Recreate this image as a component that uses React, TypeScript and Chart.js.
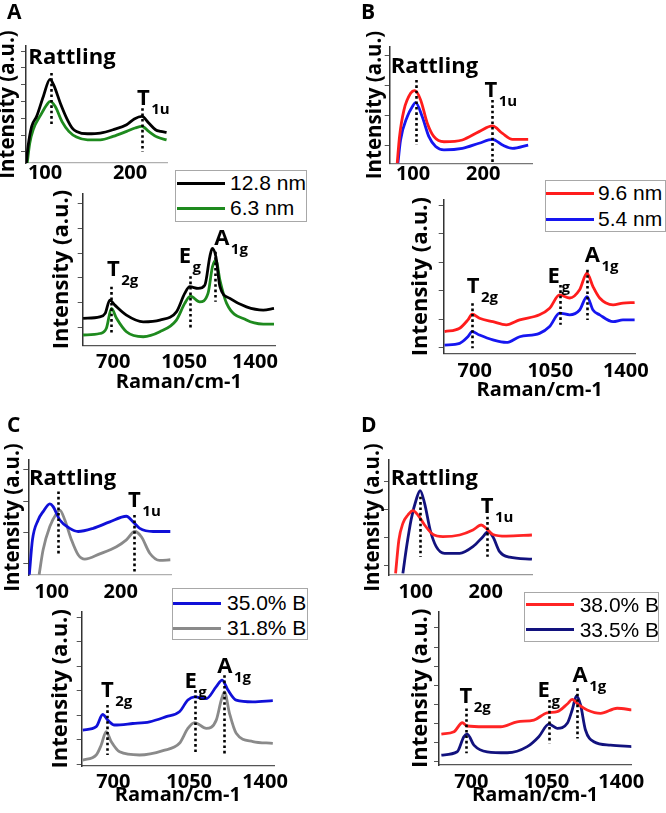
import React, { useEffect, useRef } from "react";
import { Chart, registerables } from "chart.js";

Chart.register(...registerables);

const FONT = "'Open Sans', 'Noto Sans', sans-serif";
const LEGEND_FONT = "'Liberation Sans', Arial, sans-serif";

// ---------- tick labels / titles ----------
const LOW_X_TICKS = [100, 200];
const HIGH_X_TICKS = [700, 1050, 1400];
const X_TITLE = "Raman/cm-1";
const Y_TITLE = "Intensity (a.u.)";
const PANEL_LETTERS = ["A", "B", "C", "D"];

// ---------- Panel A ----------
const A_NAMES = ["12.8 nm", "6.3 nm"];
const A_LOW_X_1 = [78, 80, 84.3, 90, 98, 105.8, 110, 118, 125.5, 132, 137, 150, 165, 180, 196, 205, 214, 222, 230, 236, 243];
const A_LOW_Y_1 = [-0.66, 0.32, 1.52, 2.1, 3.3, 4.31, 4.0, 2.9, 2.0, 1.42, 1.22, 1.08, 1.12, 1.32, 1.62, 1.96, 2.11, 1.72, 1.32, 1.22, 1.16];
const A_LOW_X_2 = [79, 82, 86, 95, 102, 106, 112, 120, 128, 137, 150, 165, 180, 196, 206, 214, 222, 232, 243];
const A_LOW_Y_2 = [-0.66, 0.52, 1.32, 2.2, 2.8, 3.0, 2.7, 1.8, 1.22, 0.88, 0.72, 0.72, 0.92, 1.22, 1.42, 1.52, 1.22, 0.88, 0.72];
const A_HIGH_X_1 = [551, 633, 660, 683, 708, 765, 848, 930, 1012, 1053, 1078, 1119, 1152, 1177, 1189, 1207, 1227, 1276, 1358, 1441, 1494];
const A_HIGH_Y_1 = [0.38, 0.44, 0.58, 1.11, 0.91, 0.51, 0.24, 0.31, 0.64, 1.38, 1.65, 1.58, 1.71, 2.85, 3.19, 2.85, 1.65, 1.18, 0.84, 0.71, 0.78];
const A_HIGH_X_2 = [551, 633, 666, 691, 716, 765, 848, 930, 1012, 1053, 1081, 1127, 1168, 1190, 1207, 1227, 1260, 1358, 1441, 1494];
const A_HIGH_Y_2 = [-0.29, -0.23, -0.02, 0.78, 0.38, -0.16, -0.36, -0.16, 0.31, 0.98, 1.27, 1.04, 1.38, 2.45, 2.72, 1.91, 0.98, 0.31, 0.15, 0.15];

// ---------- Panel B ----------
const B_NAMES = ["9.6 nm", "5.4 nm"];
const B_LOW_X = [77.4, 80.7, 87, 96.5, 102.7, 110.8, 120.3, 129.8, 144.1, 170.3, 194.1, 213.2, 227.5, 241.8, 264.1];
const B_LOW_Y_1 = [-0.59, 0.3, 1.19, 1.75, 1.84, 1.53, 0.75, 0.3, 0.13, 0.19, 0.47, 0.66, 0.41, 0.21, 0.21];
const B_LOW_X_2 = [78.4, 82.2, 91.7, 98.8, 103.6, 113.1, 122.6, 132.2, 144.1, 170.3, 194.1, 213.2, 227.5, 241.8, 264.1];
const B_LOW_Y_2 = [-0.59, 0.19, 0.97, 1.3, 1.44, 0.97, 0.3, -0.03, -0.14, -0.09, 0.08, 0.21, 0.02, -0.09, 0.02];
const B_HIGH_X = [560, 630, 668, 688, 722, 784, 846, 908, 1000, 1047, 1093, 1140, 1186, 1220, 1248, 1279, 1341, 1387, 1441];
const B_HIGH_Y_1 = [0.56, 0.68, 0.97, 1.17, 1.03, 0.91, 0.8, 0.97, 1.15, 1.38, 1.85, 1.74, 2.03, 2.61, 2.14, 1.74, 1.5, 1.56, 1.58];
const B_HIGH_Y_2 = [0.09, 0.15, 0.38, 0.56, 0.44, 0.27, 0.18, 0.38, 0.5, 0.74, 1.21, 1.15, 1.32, 1.79, 1.32, 1.15, 0.91, 0.97, 0.97];

// ---------- Panel C ----------
const C_NAMES = ["35.0% B", "31.8% B"];
const C_LOW_X_1 = [67.5, 72, 80.3, 87.5, 97.2, 102, 111.7, 126.2, 138.3, 160, 184.2, 208.3, 218, 227.7, 247, 272];
const C_LOW_Y_1 = [-0.37, 0.75, 1.39, 1.66, 1.91, 1.82, 1.39, 1.12, 1.02, 1.12, 1.33, 1.51, 1.33, 1.12, 1.02, 1.02];
const C_LOW_X_2 = [81.7, 87.5, 97.2, 106.9, 111.7, 119, 128.6, 138.3, 148, 169.7, 193.9, 208.3, 220.4, 230, 242.2, 256.7, 272];
const C_LOW_Y_2 = [-0.37, 0.43, 1.18, 1.6, 1.71, 1.39, 0.75, 0.27, 0.13, 0.3, 0.53, 0.75, 1.02, 0.85, 0.32, 0.09, 0.11];
const C_HIGH_X_1 = [559, 621, 651, 674, 705, 790, 867, 944, 1005, 1044, 1075, 1129, 1175, 1202, 1229, 1267, 1344, 1436];
const C_HIGH_Y_1 = [1.39, 1.53, 2.03, 1.8, 1.6, 1.66, 1.73, 1.94, 2.14, 2.62, 2.75, 2.68, 3.17, 3.44, 3.03, 2.62, 2.55, 2.6];
const C_HIGH_X_2 = [559, 621, 644, 667, 690, 729, 821, 929, 1005, 1044, 1075, 1129, 1175, 1198, 1213, 1236, 1267, 1344, 1436];
const C_HIGH_Y_2 = [0.16, 0.37, 0.78, 1.33, 0.92, 0.5, 0.37, 0.55, 0.85, 1.46, 1.7, 1.46, 1.8, 2.62, 2.96, 2.08, 1.26, 0.92, 0.85];

// ---------- Panel D ----------
const D_NAMES = ["38.0% B", "33.5% B"];
const D_LOW_X_1 = [71.3, 76, 81.7, 88.9, 96, 103.2, 112.7, 124.6, 138.9, 162.7, 181.7, 193.6, 200.7, 210.2, 229.2, 265.9];
const D_LOW_Y_1 = [-0.3, 0.9, 1.5, 1.8, 1.96, 1.8, 1.44, 1.1, 1.02, 1.08, 1.26, 1.44, 1.32, 1.1, 1.04, 1.08];
const D_LOW_X_2 = [81.7, 87.4, 93.6, 100.7, 106.4, 112.7, 120.7, 129.3, 141.2, 162.7, 181.7, 196, 203.1, 210.2, 219.8, 234, 265.9];
const D_LOW_Y_2 = [-0.3, 0.72, 1.65, 2.35, 2.68, 2.22, 1.26, 0.66, 0.42, 0.42, 0.66, 1.02, 1.2, 1.02, 0.48, 0.28, 0.21];
const D_HIGH_X_1 = [560, 619, 658, 681, 759, 837, 914, 992, 1054, 1101, 1148, 1171, 1202, 1241, 1303, 1381, 1451];
const D_HIGH_Y_1 = [1.45, 1.57, 2.04, 1.87, 1.83, 1.83, 2.09, 2.18, 2.56, 2.62, 3.02, 3.26, 2.97, 2.71, 2.53, 2.8, 2.71];
const D_HIGH_X_2 = [560, 634, 665, 681, 712, 774, 868, 961, 1015, 1062, 1101, 1148, 1171, 1191, 1210, 1233, 1272, 1350, 1451];
const D_HIGH_Y_2 = [0.35, 0.52, 1.31, 1.45, 0.87, 0.52, 0.47, 0.79, 1.31, 1.97, 1.75, 2.01, 2.71, 3.44, 2.97, 1.66, 1.05, 0.87, 0.79];

// ---------- peak markers (x = mode position, y0..y1 = dotted extent) ----------
const A_LOW_MARKS = [[107, 1.5, 4.7], [214, 0, 2.6]];
const A_HIGH_MARKS = [[691, -0.29, 1.65], [1078, -0.02, 2.07], [1202, 1.04, 3.05]];
const B_LOW_MARKS = [[103.6, 0.02, 2.2], [213, -0.59, 1.53]];
const B_HIGH_MARKS = [[688, -0.02, 1.56], [1097, 0.8, 2.2], [1220, 0.97, 2.73]];
const C_LOW_MARKS = [[109, 0.22, 2.31], [220, -0.27, 1.55]];
const C_HIGH_MARKS = [[670, 0.37, 2.42], [1078, 0.44, 3.03], [1210, 0.37, 3.64]];
const D_LOW_MARKS = [[105.5, 0.3, 2.46], [202, 0.3, 1.74]];
const D_HIGH_MARKS = [[676, 0.44, 2.79], [1065, 0.96, 3.23], [1194, 1.22, 3.84]];

// ---------- peak names ----------
const LOW_MODES = [["Rattling", ""], ["T", "1u"]];
const HIGH_MODES = [["T", "2g"], ["E", "g"], ["A", "1g"]];
const A_LOW_LABEL_AT = [[131.7, 5.2], [215.6, 2.82]];
const A_HIGH_LABEL_AT = [[700, 2.07], [1054, 2.59], [1236, 3.32]];
const B_LOW_LABEL_AT = [[130.5, 2.42], [211, 1.64]];
const B_HIGH_LABEL_AT = [[692, 1.9], [1066, 2.26], [1245, 3.02]];
const C_LOW_LABEL_AT = [[130.3, 2.52], [220, 1.82]];
const C_HIGH_LABEL_AT = [[672, 2.76], [1057, 3.1], [1215, 3.72]];
const D_LOW_LABEL_AT = [[126.6, 2.88], [202, 1.86]];
const D_HIGH_LABEL_AT = [[674, 3.05], [1038, 3.4], [1208, 4.19]];

const range = (n: number) => Array.from({ length: n + 1 }, (_, i) => i);

type Series = { x: number[]; y: number[]; color: string };
type Spec = {
  area: [number, number, number, number];
  xRange: [number, number];
  yRange: [number, number];
  xTicks: number[];
  yTicks: number[];
  series: Series[];
  marks: number[][];
  modes: string[][];
  labelAt: number[][];
  yTitleX: number;
  yTitleSize: number;
  xTitleY?: number;
  tickPad: number;
  xAxisColor: string;
};

const COLORS = {
  black: "#000000",
  green: "#1e8a1e",
  red: "#ff1c1c",
  blue: "#1616f0",
  cblue: "#1010d8",
  gray: "#8a8a8a",
  dred: "#ff2424",
  navy: "#12127e",
};

const SPECS: Spec[] = [
  {
    area: [26, 46, 167, 163], xRange: [77.6, 243.5], yRange: [-0.66, 6.3],
    xTicks: LOW_X_TICKS, yTicks: range(6),
    series: [
      { x: A_LOW_X_1, y: A_LOW_Y_1, color: COLORS.black },
      { x: A_LOW_X_2, y: A_LOW_Y_2, color: COLORS.green },
    ],
    marks: A_LOW_MARKS, modes: LOW_MODES, labelAt: A_LOW_LABEL_AT,
    yTitleX: 11, yTitleSize: 20.5, tickPad: -1.5, xAxisColor: "#b0b0b0",
  },
  {
    area: [82.7, 193.3, 275, 345.7], xRange: [549, 1499], yRange: [-0.72, 5.4],
    xTicks: HIGH_X_TICKS, yTicks: range(5),
    series: [
      { x: A_HIGH_X_1, y: A_HIGH_Y_1, color: COLORS.black },
      { x: A_HIGH_X_2, y: A_HIGH_Y_2, color: COLORS.green },
    ],
    marks: A_HIGH_MARKS, modes: HIGH_MODES, labelAt: A_HIGH_LABEL_AT,
    yTitleX: 65, yTitleSize: 22, xTitleY: 383, tickPad: 5, xAxisColor: "#555",
  },
  {
    area: [389.7, 46.7, 532.3, 163.3], xRange: [66.7, 270], yRange: [-0.59, 3.31],
    xTicks: LOW_X_TICKS, yTicks: range(3),
    series: [
      { x: B_LOW_X, y: B_LOW_Y_1, color: COLORS.red },
      { x: B_LOW_X_2, y: B_LOW_Y_2, color: COLORS.blue },
    ],
    marks: B_LOW_MARKS, modes: LOW_MODES, labelAt: B_LOW_LABEL_AT,
    yTitleX: 378, yTitleSize: 20.5, tickPad: -0.8, xAxisColor: "#777",
  },
  {
    area: [443.7, 200, 635.7, 353.3], xRange: [556, 1446], yRange: [-0.2, 5.18],
    xTicks: HIGH_X_TICKS, yTicks: range(5),
    series: [
      { x: B_HIGH_X, y: B_HIGH_Y_1, color: COLORS.red },
      { x: B_HIGH_X, y: B_HIGH_Y_2, color: COLORS.blue },
    ],
    marks: B_HIGH_MARKS, modes: HIGH_MODES, labelAt: B_HIGH_LABEL_AT,
    yTitleX: 424, yTitleSize: 22, xTitleY: 391.7, tickPad: 6.2, xAxisColor: "#555",
  },
  {
    area: [28.3, 460, 171, 575], xRange: [66, 273], yRange: [-0.38, 3.32],
    xTicks: LOW_X_TICKS, yTicks: range(3),
    series: [
      { x: C_LOW_X_1, y: C_LOW_Y_1, color: COLORS.cblue },
      { x: C_LOW_X_2, y: C_LOW_Y_2, color: COLORS.gray },
    ],
    marks: C_LOW_MARKS, modes: LOW_MODES, labelAt: C_LOW_LABEL_AT,
    yTitleX: 16, yTitleSize: 20.5, tickPad: 5, xAxisColor: "#b0b0b0",
  },
  {
    area: [81.7, 611.7, 274, 766], xRange: [554, 1441.5], yRange: [-0.08, 6.24],
    xTicks: HIGH_X_TICKS, yTicks: range(6),
    series: [
      { x: C_HIGH_X_1, y: C_HIGH_Y_1, color: COLORS.cblue },
      { x: C_HIGH_X_2, y: C_HIGH_Y_2, color: COLORS.gray },
    ],
    marks: C_HIGH_MARKS, modes: HIGH_MODES, labelAt: C_HIGH_LABEL_AT,
    yTitleX: 64, yTitleSize: 22, xTitleY: 796, tickPad: 4.5, xAxisColor: "#555",
  },
  {
    area: [389, 460, 532, 575], xRange: [61.9, 266], yRange: [-0.36, 3.78],
    xTicks: LOW_X_TICKS, yTicks: range(3),
    series: [
      { x: D_LOW_X_1, y: D_LOW_Y_1, color: COLORS.dred },
      { x: D_LOW_X_2, y: D_LOW_Y_2, color: COLORS.navy },
    ],
    marks: D_LOW_MARKS, modes: LOW_MODES, labelAt: D_LOW_LABEL_AT,
    yTitleX: 376, yTitleSize: 20.5, tickPad: 5.5, xAxisColor: "#999",
  },
  {
    area: [439, 611.7, 631.3, 765], xRange: [549, 1447], yRange: [-0.17, 7.85],
    xTicks: HIGH_X_TICKS, yTicks: range(7),
    series: [
      { x: D_HIGH_X_1, y: D_HIGH_Y_1, color: COLORS.dred },
      { x: D_HIGH_X_2, y: D_HIGH_Y_2, color: COLORS.navy },
    ],
    marks: D_HIGH_MARKS, modes: HIGH_MODES, labelAt: D_HIGH_LABEL_AT,
    yTitleX: 424, yTitleSize: 22, xTitleY: 796.7, tickPad: 5.5, xAxisColor: "#555",
  },
];

const LEGENDS = [
  { box: [175, 170, 132, 52], rows: [183, 208], lineX: 177, textX: 230, names: A_NAMES, colors: [COLORS.black, COLORS.green] },
  { box: [544.7, 180, 121, 51.7], rows: [193, 219], lineX: 546, textX: 598, names: B_NAMES, colors: [COLORS.red, COLORS.blue] },
  { box: [171.7, 588.3, 136.6, 51.7], rows: [603.3, 628.3], lineX: 173, textX: 227, names: C_NAMES, colors: [COLORS.cblue, COLORS.gray] },
  { box: [523.7, 591.7, 135.3, 50], rows: [605, 630], lineX: 525.7, textX: 579.7, names: D_NAMES, colors: [COLORS.dred, COLORS.navy] },
];

const LETTER_POS = [[7, 1], [361, 1], [7, 414], [361, 414]];

// ink of the titles sits slightly off their 'middle'-aligned line-box centre
const Y_INK_SHIFT = 3;
const X_INK_SHIFT = 1;

function Plot({ spec }: { spec: Spec }) {
  const ref = useRef<HTMLCanvasElement>(null);
  const [aL, aT, aR, aB] = spec.area;
  const yLH = spec.yTitleSize * 1.2;
  const xLH = 24;
  const yTitleCenter = spec.yTitleX - Y_INK_SHIFT;
  const cLeft = Math.floor(yTitleCenter - yLH / 2 - 2);
  const cTop = Math.floor(aT - 30);
  const cRight = Math.ceil(aR + 40);
  const xTitleCenter = spec.xTitleY != null ? spec.xTitleY - X_INK_SHIFT : 0;
  const cBottom = spec.xTitleY != null ? Math.ceil(xTitleCenter + xLH / 2 + 2) : Math.ceil(aB + 34);
  const W = cRight - cLeft;
  const H = cBottom - cTop;

  useEffect(() => {
    const canvas = ref.current;
    if (!canvas) return;
    const marksPlugin = {
      id: "peakMarks",
      afterDatasetsDraw(chart: any) {
        const { ctx, scales } = chart;
        const xs = scales.x;
        const ys = scales.y;
        ctx.save();
        ctx.strokeStyle = "#000";
        ctx.lineWidth = 2.6;
        ctx.setLineDash([2.6, 2.8]);
        ctx.lineCap = "butt";
        for (const m of spec.marks) {
          const px = Math.round(xs.getPixelForValue(m[0])) + 0.5;
          ctx.beginPath();
          ctx.moveTo(px, ys.getPixelForValue(m[2]));
          ctx.lineTo(px, ys.getPixelForValue(m[1]));
          ctx.stroke();
        }
        ctx.setLineDash([]);
        ctx.fillStyle = "#000";
        ctx.textBaseline = "alphabetic";
        ctx.textAlign = "left";
        spec.modes.forEach((md, i) => {
          const at = spec.labelAt[i];
          const px = xs.getPixelForValue(at[0]);
          const py = ys.getPixelForValue(at[1]);
          ctx.font = `bold 22px ${FONT}`;
          const w = ctx.measureText(md[0]).width;
          ctx.fillText(md[0], px - w / 2, py);
          if (md[1]) {
            ctx.font = `bold 15px ${FONT}`;
            ctx.fillText(md[1], px + w / 2 + 1.5, py + 9);
          }
        });
        ctx.restore();
      },
    };

    const chart = new Chart(canvas, {
      type: "line",
      data: {
        datasets: spec.series.map((s) => ({
          data: s.x.map((x, i) => ({ x, y: s.y[i] })),
          borderColor: s.color,
          backgroundColor: s.color,
          borderWidth: 2.8,
          pointRadius: 0,
          cubicInterpolationMode: "monotone" as const,
          fill: false,
        })),
      },
      options: {
        animation: false,
        responsive: false,
        maintainAspectRatio: false,
        events: [],
        layout: { padding: { left: 0, top: aT - cTop, right: cRight - aR, bottom: 0 } },
        plugins: { legend: { display: false }, tooltip: { enabled: false } },
        scales: {
          x: {
            type: "linear",
            min: spec.xRange[0],
            max: spec.xRange[1],
            afterBuildTicks: (sc: any) => {
              sc.ticks = spec.xTicks.map((v) => ({ value: v }));
            },
            afterFit: (sc: any) => {
              sc.height = cBottom - aB;
            },
            grid: { display: false, drawTicks: false, tickLength: 0 },
            border: { display: true, color: spec.xAxisColor, width: 1.2 },
            ticks: {
              padding: spec.tickPad,
              color: "#000",
              maxRotation: 0,
              minRotation: 0,
              autoSkip: false,
              callback: (v: any) => String(v),
              font: { family: FONT, size: 20, weight: "bold" },
            },
            title: {
              display: spec.xTitleY != null,
              text: X_TITLE,
              color: "#000",
              font: { family: FONT, size: 20, weight: "bold" },
              padding: { top: 0, bottom: spec.xTitleY != null ? cBottom - xTitleCenter - xLH / 2 : 0 },
            },
          },
          y: {
            type: "linear",
            min: spec.yRange[0],
            max: spec.yRange[1],
            afterBuildTicks: (sc: any) => {
              sc.ticks = spec.yTicks.map((v) => ({ value: v }));
            },
            afterFit: (sc: any) => {
              sc.width = aL - cLeft;
            },
            grid: { drawOnChartArea: false, drawTicks: true, tickLength: 5, color: "#555", lineWidth: 1 },
            border: { display: true, color: "#333", width: 1.5 },
            ticks: { display: false },
            title: {
              display: true,
              text: Y_TITLE,
              color: "#000",
              font: { family: FONT, size: spec.yTitleSize, weight: "bold" },
              padding: { top: yTitleCenter - yLH / 2 - cLeft, bottom: 0 },
            },
          },
        },
      } as any,
      plugins: [marksPlugin],
    });
    return () => chart.destroy();
  }, [spec]);

  return (
    <canvas
      ref={ref}
      width={W}
      height={H}
      style={{ position: "absolute", left: cLeft, top: cTop, width: W, height: H }}
    />
  );
}

function Legend({ lg }: { lg: (typeof LEGENDS)[number] }) {
  const [bx, by, bw, bh] = lg.box;
  return (
    <div
      style={{
        position: "absolute",
        left: bx,
        top: by,
        width: bw,
        height: bh,
        boxSizing: "border-box",
        border: "1px solid #a8a8a8",
        background: "#fff",
      }}
    >
      {lg.names.map((name, i) => (
        <React.Fragment key={name}>
          <div
            style={{
              position: "absolute",
              left: lg.lineX - bx - 1,
              top: lg.rows[i] - by - 2.5,
              width: 48,
              height: 3,
              background: lg.colors[i],
            }}
          />
          <span
            style={{
              position: "absolute",
              left: lg.textX - bx - 1,
              top: lg.rows[i] - by - 13,
              fontFamily: LEGEND_FONT,
              fontSize: 21,
              lineHeight: "24px",
              color: "#000",
              whiteSpace: "nowrap",
            }}
          >
            {name}
          </span>
        </React.Fragment>
      ))}
    </div>
  );
}

export default function App() {
  return (
    <div
      style={{
        position: "absolute",
        left: 0,
        top: 0,
        width: 666,
        height: 813,
        background: "#fff",
        overflow: "hidden",
      }}
    >
      {SPECS.map((s, i) => (
        <Plot key={i} spec={s} />
      ))}
      {LEGENDS.map((lg, i) => (
        <Legend key={i} lg={lg} />
      ))}
      {PANEL_LETTERS.map((L, i) => (
        <div
          key={L}
          style={{
            position: "absolute",
            left: LETTER_POS[i][0],
            top: LETTER_POS[i][1],
            fontFamily: FONT,
            fontWeight: 700,
            fontSize: 21,
            lineHeight: "21px",
            color: "#000",
          }}
        >
          {L}
        </div>
      ))}
    </div>
  );
}
